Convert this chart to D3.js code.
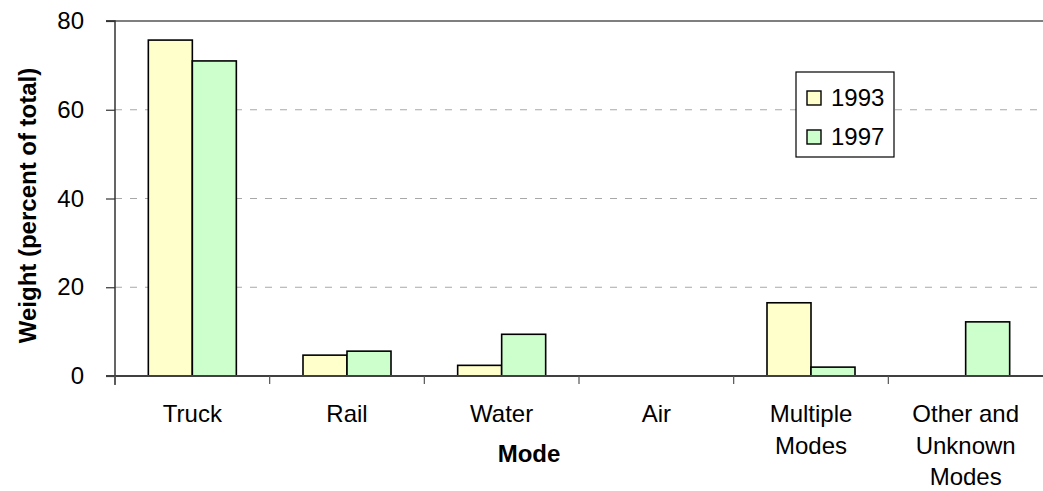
<!DOCTYPE html>
<html>
<head>
<meta charset="utf-8">
<script src="https://cdn.jsdelivr.net/npm/d3@7"></script>
<style>
  html, body { margin: 0; padding: 0; background: #fff; }
  svg { display: block; font-family: "Liberation Sans", Arial, sans-serif; }
</style>
</head>
<body>
<svg id="chart" width="1043" height="491"></svg>
<script>
// ---- data ----
const categories = ["Truck", "Rail", "Water", "Air", "Multiple Modes", "Other and Unknown Modes"];
const categoryLabels = [["Truck"], ["Rail"], ["Water"], ["Air"], ["Multiple", "Modes"], ["Other and", "Unknown", "Modes"]];
const seriesNames = ["1993", "1997"];
const values1993 = [75.7, 4.7, 2.4, 0, 16.5, 0];
const values1997 = [71.0, 5.6, 9.4, 0, 2.0, 12.2];
const yTicks = [0, 20, 40, 60, 80];
const colors = ["#FFFFCC", "#CCFFCC"];

(function () {
const svg = d3.select("#chart");
const mLeft = 115, mRight = 1043, mTop = 21, mBottom = 376;

const x = d3.scaleBand().domain(categories).range([mLeft, mRight]).paddingInner(0.431).paddingOuter(0.2155);
const x1 = d3.scaleBand().domain(seriesNames).range([0, x.bandwidth()]);
const y = d3.scaleLinear().domain([0, 80]).range([mBottom, mTop]);

// gridlines
svg.append("g").selectAll("line").data(yTicks.filter(d => d > 0 && d < 80)).join("line")
  .attr("x1", mLeft).attr("x2", mRight)
  .attr("y1", d => y(d)).attr("y2", d => y(d))
  .attr("stroke", "#a8a8a8").attr("stroke-width", 1).attr("stroke-dasharray", "7,8");

// top border
svg.append("line").attr("x1", mLeft - 9).attr("x2", mRight).attr("y1", y(80)).attr("y2", y(80))
  .attr("stroke", "#000").attr("stroke-width", 1.2);

// bars
const rows = categories.map((c, i) => ({ cat: c, vals: [values1993[i], values1997[i]] }));
const g = svg.append("g");
rows.forEach(r => {
  r.vals.forEach((v, j) => {
    if (v <= 0) return;
    g.append("rect")
      .attr("x", x(r.cat) + x1(seriesNames[j]))
      .attr("y", y(v))
      .attr("width", x1.bandwidth())
      .attr("height", y(0) - y(v))
      .attr("fill", colors[j]).attr("stroke", "#000").attr("stroke-width", 1.6);
  });
});

// y axis
const yAxis = d3.axisLeft(y).tickValues(yTicks).tickSize(9).tickPadding(22).tickFormat(d3.format("d"));
const ya = svg.append("g").attr("transform", `translate(${mLeft},0)`).call(yAxis);
ya.select(".domain").attr("stroke", "#333").attr("stroke-width", 1.5).attr("d", `M-9,${mTop}H0V${mBottom + 9}`);
ya.selectAll(".tick line").attr("stroke", "#333").attr("stroke-width", 1.2);
ya.selectAll(".tick text").attr("font-size", 24).attr("fill", "#000").attr("font-family", "Liberation Sans, Arial, sans-serif");

// x axis
const xAxis = d3.axisBottom(x).tickSize(0).tickFormat("");
const xa = svg.append("g").attr("transform", `translate(0,${mBottom})`).call(xAxis);
xa.select(".domain").attr("stroke", "#404040").attr("stroke-width", 2).attr("d", `M${mLeft - 9},0H${mRight}`);
const sepX = categories.map(c => x(c) - x.step() * x.paddingOuter());
xa.append("g").selectAll("line").data(sepX).join("line")
  .attr("x1", d => d).attr("x2", d => d).attr("y1", 0).attr("y2", 8)
  .attr("stroke", "#555").attr("stroke-width", 1.2);
const lab = svg.append("g").attr("font-size", 24).attr("text-anchor", "middle").attr("fill", "#000");
categories.forEach((c, i) => {
  const cx = x(c) + x.bandwidth() / 2;
  const t = lab.append("text").attr("x", cx).attr("y", 422);
  categoryLabels[i].forEach((ln, k) => {
    t.append("tspan").attr("x", cx).attr("dy", k === 0 ? 0 : 31.5).text(ln);
  });
});

// axis titles
svg.append("text").attr("x", 529).attr("y", 462).attr("text-anchor", "middle")
  .attr("font-size", 24).attr("font-weight", "bold").text("Mode");
svg.append("text").attr("transform", `translate(36,${(mTop + mBottom) / 2 + 7}) rotate(-90)`)
  .attr("text-anchor", "middle").attr("font-size", 24).attr("font-weight", "bold")
  .text("Weight (percent of total)");

// legend
const lg = svg.append("g");
lg.append("rect").attr("x", 796).attr("y", 72).attr("width", 98).attr("height", 85)
  .attr("fill", "#fff").attr("stroke", "#000").attr("stroke-width", 1.2);
seriesNames.forEach((s, j) => {
  const yy = 106 + j * 39;
  lg.append("rect").attr("x", 807).attr("y", yy - 15).attr("width", 14).attr("height", 14)
    .attr("fill", colors[j]).attr("stroke", "#000").attr("stroke-width", 1.4);
  lg.append("text").attr("x", 831).attr("y", yy).attr("font-size", 24).text(s);
});
})();
</script>
</body>
</html>
